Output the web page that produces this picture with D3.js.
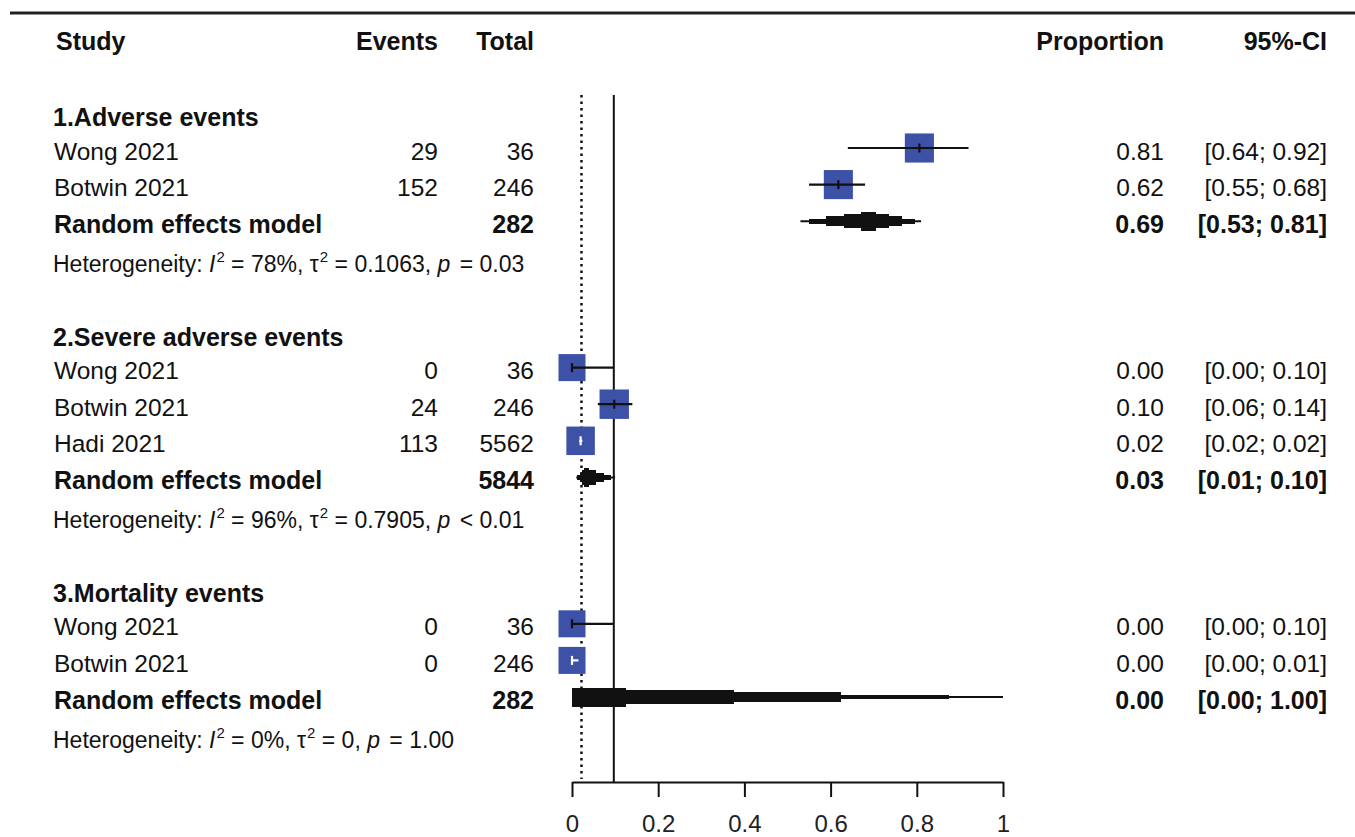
<!DOCTYPE html>
<html><head><meta charset="utf-8">
<script src="https://cdn.jsdelivr.net/npm/d3@7"></script>
<style>
html,body{margin:0;padding:0;background:#fff;}
svg{display:block;font-family:"Liberation Sans",Arial,sans-serif;}
</style></head><body>
<svg id="chart" width="1355" height="837"></svg>
<script>
// ---------------- data ----------------
const columnHeaders = ["Study", "Events", "Total", "Proportion", "95%-CI"];
const groupLabels = ["1.Adverse events", "2.Severe adverse events", "3.Mortality events"];
const studyGroup  = [0, 0, 1, 1, 1, 2, 2];
const studyNames  = ["Wong 2021", "Botwin 2021", "Wong 2021", "Botwin 2021", "Hadi 2021", "Wong 2021", "Botwin 2021"];
const studyEvents = [29, 152, 0, 24, 113, 0, 0];
const studyTotals = [36, 246, 36, 246, 5562, 36, 246];
const studyProp   = [0.806, 0.618, 0.000, 0.098, 0.020, 0.000, 0.000];
const studyLower  = [0.64, 0.55, 0.00, 0.06, 0.017, 0.00, 0.00];
const studyUpper  = [0.92, 0.68, 0.097, 0.14, 0.024, 0.097, 0.0149];
const studyWeight = [0.97, 0.97, 0.90, 0.98, 0.95, 0.90, 0.90]; // relative box size
const pooledLabel = "Random effects model";
const pooledTotals = [282, 5844, 282];
const pooledProp   = [0.69, 0.03, 0.00];
const pooledLower  = [0.53, 0.01, 0.00];
const pooledUpper  = [0.81, 0.10, 1.00];
const hetI2   = ["78%", "96%", "0%"];
const hetTau2 = ["0.1063", "0.7905", "0"];
const hetP    = ["= 0.03", "< 0.01", "= 1.00"];
const axisTicks = [0, 0.2, 0.4, 0.6, 0.8, 1];
const refLineValue = 0.097;     // solid vertical line
const overallLineValue = 0.022; // dotted vertical line

// ---------------- layout ----------------
const svg = d3.select("#chart");
const ink = "#111111";
const boxColor = "#3d51a7";
const x = d3.scaleLinear().domain([0, 1]).range([572, 1003]);
const y = d3.scaleLinear().domain([0, 15]).range([148, 697]);
const boxSize = d3.scaleLinear().domain([0, 1]).range([0, 30]);
const fmt2 = d3.format(".2f");
const col = {study: 54, events: 438, total: 534, prop: 1164, ci: 1327};
const fs = 24.5, fsb = 25;

// build row slots
const rows = [];
let s = -1;
groupLabels.forEach((g, gi) => {
  rows.push({type: "group", g: gi, slot: s++});
  studyGroup.forEach((sg, i) => { if (sg === gi) rows.push({type: "study", i, slot: s++}); });
  rows.push({type: "pooled", g: gi, slot: s++});
  rows.push({type: "het", g: gi, slot: s++});
  s++;
});

// top rule
svg.append("line").attr("x1", 10).attr("x2", 1355).attr("y1", 13).attr("y2", 13)
  .attr("stroke", "#222").attr("stroke-width", 3);

// column headers
const hy = 50;
const hdr = svg.append("g").attr("font-weight", "bold").attr("font-size", fsb).attr("fill", ink);
hdr.append("text").attr("x", col.study + 2).attr("y", hy).text(columnHeaders[0]);
hdr.append("text").attr("x", col.events).attr("y", hy).attr("text-anchor", "end").text(columnHeaders[1]);
hdr.append("text").attr("x", col.total).attr("y", hy).attr("text-anchor", "end").text(columnHeaders[2]);
hdr.append("text").attr("x", col.prop).attr("y", hy).attr("text-anchor", "end").text(columnHeaders[3]);
hdr.append("text").attr("x", col.ci).attr("y", hy).attr("text-anchor", "end").text(columnHeaders[4]);

// vertical reference lines
svg.append("line").attr("x1", x(overallLineValue)).attr("x2", x(overallLineValue))
  .attr("y1", 95).attr("y2", 779).attr("stroke", ink).attr("stroke-width", 2.5)
  .attr("stroke-dasharray", "2.5,4");
svg.append("line").attr("x1", x(refLineValue)).attr("x2", x(refLineValue))
  .attr("y1", 95).attr("y2", 782).attr("stroke", ink).attr("stroke-width", 2);

// axis
const axis = d3.axisBottom(x).tickValues(axisTicks).tickSize(15).tickSizeOuter(0)
  .tickFormat(d3.format(""));
const ag = svg.append("g").attr("transform", "translate(0,782)").call(axis);
ag.select(".domain").attr("stroke", ink).attr("stroke-width", 2);
ag.selectAll(".tick line").attr("stroke", ink).attr("stroke-width", 2);
ag.selectAll(".tick text").attr("font-size", 24).attr("fill", "#222")
  .attr("font-family", "'Liberation Sans',Arial,sans-serif").attr("y", 33);

// text rows
const tg = svg.append("g").attr("fill", ink).attr("font-size", fs);
rows.forEach(r => {
  const yc = y(r.slot);
  if (r.type === "group") {
    tg.append("text").attr("x", col.study - 1).attr("y", yc + 14.5).attr("font-weight", "bold")
      .attr("font-size", fsb).text(groupLabels[r.g]);
  } else if (r.type === "study") {
    const i = r.i, by = yc + 11.5;
    tg.append("text").attr("x", col.study).attr("y", by).text(studyNames[i]);
    tg.append("text").attr("x", col.events).attr("y", by).attr("text-anchor", "end").text(studyEvents[i]);
    tg.append("text").attr("x", col.total).attr("y", by).attr("text-anchor", "end").text(studyTotals[i]);
    tg.append("text").attr("x", col.prop).attr("y", by).attr("text-anchor", "end").text(fmt2(studyProp[i]));
    tg.append("text").attr("x", col.ci).attr("y", by).attr("text-anchor", "end")
      .text("[" + fmt2(studyLower[i]) + "; " + fmt2(studyUpper[i]) + "]");
  } else if (r.type === "pooled") {
    const g = r.g, by = yc + 11.5;
    const b = tg.append("g").attr("font-weight", "bold").attr("font-size", fsb);
    b.append("text").attr("x", col.study).attr("y", by).text(pooledLabel);
    b.append("text").attr("x", col.total).attr("y", by).attr("text-anchor", "end").text(pooledTotals[g]);
    b.append("text").attr("x", col.prop).attr("y", by).attr("text-anchor", "end").text(fmt2(pooledProp[g]));
    b.append("text").attr("x", col.ci).attr("y", by).attr("text-anchor", "end")
      .text("[" + fmt2(pooledLower[g]) + "; " + fmt2(pooledUpper[g]) + "]");
  } else if (r.type === "het") {
    const g = r.g;
    const t = tg.append("text").attr("x", col.study - 1).attr("y", yc + 14).attr("font-size", 23);
    t.append("tspan").text("Heterogeneity: ");
    t.append("tspan").attr("font-style", "italic").text("I");
    t.append("tspan").attr("font-size", 15).attr("dy", -10).attr("dx", 1).text("2");
    t.append("tspan").attr("dy", 10).text(" = " + hetI2[g] + ", ");
    t.append("tspan").text("τ");
    t.append("tspan").attr("font-size", 15).attr("dy", -10).attr("dx", 1).text("2");
    t.append("tspan").attr("dy", 10).text(" = " + hetTau2[g] + ", ");
    t.append("tspan").attr("font-style", "italic").text("p");
    t.append("tspan").attr("dx", 3).text(" " + hetP[g]);
  }
});

// study marks
const mg = svg.append("g");
rows.filter(r => r.type === "study").forEach(r => {
  const i = r.i, yc = y(r.slot);
  const side = boxSize(studyWeight[i]);
  const cx = x(studyProp[i]);
  mg.append("rect").attr("x", cx - side / 2).attr("y", yc - side / 2)
    .attr("width", side).attr("height", side).attr("fill", boxColor);
  const inside = x(studyLower[i]) >= cx - side / 2 && x(studyUpper[i]) <= cx + side / 2;
  const c = inside ? "#ffffff" : ink;
  mg.append("line").attr("x1", x(studyLower[i])).attr("x2", x(studyUpper[i]))
    .attr("y1", yc).attr("y2", yc).attr("stroke", c).attr("stroke-width", 2.2);
  mg.append("line").attr("x1", cx).attr("x2", cx).attr("y1", yc - 4.5).attr("y2", yc + 4.5)
    .attr("stroke", c).attr("stroke-width", 2.2);
});

// pooled diamonds (stepped rendering like the low-resolution original)
const dg = svg.append("g").attr("fill", ink);
rows.filter(r => r.type === "pooled").forEach(r => {
  const g = r.g, yc = y(r.slot);
  const L = pooledLower[g], T = pooledProp[g], U = pooledUpper[g];
  const h = 9.5, n = 4, st = h / n;
  for (let k = 0; k < n; k++) {
    const f = 1 - (k + 0.5) / n;
    const left = x(L + f * (T - L)), right = x(U - f * (U - T));
    dg.append("rect").attr("x", left).attr("width", Math.max(0.5, right - left))
      .attr("y", yc - h + k * st).attr("height", st + 0.3).attr("shape-rendering", "crispEdges");
    dg.append("rect").attr("x", left).attr("width", Math.max(0.5, right - left))
      .attr("y", yc + h - (k + 1) * st - 0.3).attr("height", st + 0.3).attr("shape-rendering", "crispEdges");
  }
  dg.append("line").attr("x1", x(L)).attr("x2", x(U)).attr("y1", yc).attr("y2", yc)
    .attr("stroke", ink).attr("stroke-width", 2);
});
</script>
</body></html>
